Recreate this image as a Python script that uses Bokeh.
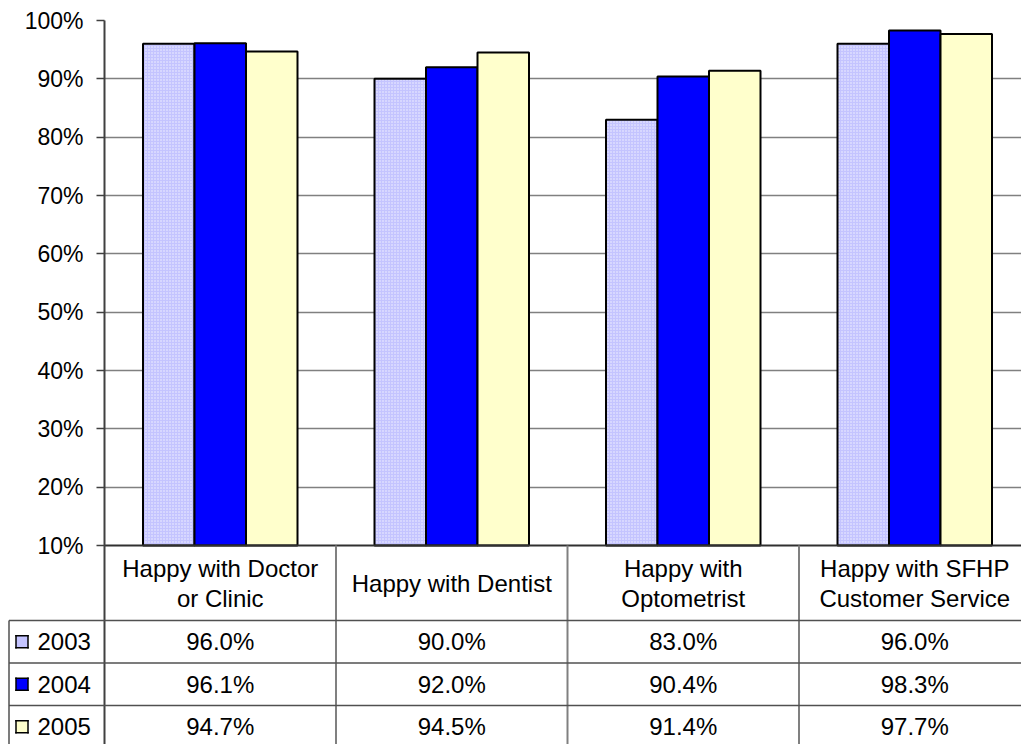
from bokeh.plotting import figure
from bokeh.models import Range1d, FixedTicker, ColumnDataSource
from bokeh.transform import dodge
from bokeh.embed import file_html
from bokeh.resources import INLINE
from bokeh.core.properties import value

# ---------------- data ----------------
categories = ["Happy with Doctor\nor Clinic", "Happy with Dentist",
              "Happy with\nOptometrist", "Happy with SFHP\nCustomer Service"]
years = ["2003", "2004", "2005"]
v2003 = [96.0, 90.0, 83.0, 96.0]
v2004 = [96.1, 92.0, 90.4, 98.3]
v2005 = [94.7, 94.5, 91.4, 97.7]
y_ticks = [10, 20, 30, 40, 50, 60, 70, 80, 90, 100]
y_tick_labels = ["10%", "20%", "30%", "40%", "50%", "60%", "70%", "80%", "90%", "100%"]

series = [v2003, v2004, v2005]
colors = ["#C4C4FF", "#0000FF", "#FFFFCC"]

# ---------------- layout constants ----------------
FONT = "Liberation Sans"
AXIS_FS = "23px"
FS = "24px"
PAGE_W = 1021
PAGE_H = 744
LEFT_PX = 104          # px from figure left to the value axis
TOP_PX = 20
BASE_PX = 545          # pixel row of the 10% baseline
CAT_PX = 231.5         # px per category column
FRAME_W = PAGE_W - LEFT_PX
X_END = FRAME_W / CAT_PX
UNIT_PX = (BASE_PX - TOP_PX) / (y_ticks[-1] - y_ticks[0])   # px per percent point
Y_MIN = y_ticks[0] - (PAGE_H - BASE_PX) / UNIT_PX
HEADER_H = 75
ROW_H = 42.5
BAR_W = 51.5 / CAT_PX
AXIS_COLOR = "#404040"
GRID_COLOR = "#808080"
TABLE_LEFT_PX = 8.5
KEY_CX = 21.5
KEY_SIZE = 12
LABEL_X = 37


def px_x(px):
    """page pixel column -> data x (value axis is at x = 0)"""
    return (px - LEFT_PX) / CAT_PX


def px_y(px):
    """pixels below the baseline -> data y"""
    return y_ticks[0] - px / UNIT_PX


p = figure(width=PAGE_W, height=PAGE_H, x_range=Range1d(0, X_END), y_range=Range1d(Y_MIN, y_ticks[-1]),
           output_backend="svg", toolbar_location=None, x_axis_location=None,
           min_border_left=LEFT_PX, min_border_right=0, min_border_top=TOP_PX, min_border_bottom=0)
p.outline_line_color = None
p.background_fill_color = "white"
p.border_fill_color = "white"
p.xgrid.visible = False
p.ygrid.ticker = FixedTicker(ticks=y_ticks[1:])
p.ygrid.grid_line_color = GRID_COLOR
p.ygrid.grid_line_width = 1.5

ax = p.yaxis[0]
ax.ticker = FixedTicker(ticks=y_ticks)
ax.major_label_overrides = {t: l for t, l in zip(y_ticks, y_tick_labels)}
ax.major_label_text_font = FONT
ax.major_label_text_font_size = AXIS_FS
ax.major_label_text_color = "black"
ax.major_label_standoff = 13
ax.major_tick_in = 0
ax.major_tick_out = 8
ax.minor_tick_in = 0
ax.minor_tick_out = 0
ax.axis_line_color = AXIS_COLOR
ax.axis_line_width = 2
ax.major_tick_line_color = AXIS_COLOR
ax.major_tick_line_width = 1.5

# ---------------- bars ----------------
src = ColumnDataSource(dict(x=[i + 0.5 for i in range(len(categories))],
                            v2003=v2003, v2004=v2004, v2005=v2005))
offsets = [-BAR_W, 0.0, BAR_W]
for name, off, col in zip(["v2003", "v2004", "v2005"], offsets, colors):
    kw = {}
    if name == "v2003":
        kw = dict(hatch_pattern="dot", hatch_color="white", hatch_scale=3, hatch_weight=1, hatch_alpha=0.8)
    p.vbar(x=dodge("x", off), top=name, bottom=y_ticks[0], width=BAR_W, source=src,
           fill_color=col, line_color="black", line_width=2, **kw)

# ---------------- data table ----------------
x_left = px_x(TABLE_LEFT_PX)
row_tops = [px_y(HEADER_H + ROW_H * r) for r in range(len(years))]
row_mid = [px_y(HEADER_H + ROW_H * (r + 0.5)) for r in range(len(years))]
y_bottom = Y_MIN

# baseline (top border of the table)
p.segment(x0=[0], y0=[y_ticks[0]], x1=[X_END], y1=[y_ticks[0]], line_color="#303030", line_width=2)
# row lines (extend into the legend column, drawn unclipped)
p.segment(x0=[x_left] * len(row_tops), y0=row_tops, x1=[X_END] * len(row_tops), y1=row_tops,
          line_color="#505050", line_width=1.5, level="annotation")
# category separators
seps = list(range(1, len(categories)))
p.segment(x0=seps, y0=[y_ticks[0]] * len(seps), x1=seps, y1=[y_bottom] * len(seps),
          line_color=GRID_COLOR, line_width=2)
# left border of the legend column
p.segment(x0=[x_left], y0=[row_tops[0]], x1=[x_left], y1=[y_bottom], line_color="#505050",
          line_width=1.5, level="annotation")

# header texts
p.text(x=[i + 0.5 for i in range(len(categories))], y=[px_y(HEADER_H / 2 + 0.5)] * len(categories),
       text=categories, text_align="center", text_baseline="middle", text_font=value(FONT),
       text_font_size=FS, text_color="black", text_line_height=1.13)

# value texts
for r, vals in enumerate(series):
    p.text(x=[i + 0.5 for i in range(len(categories))], y=[row_mid[r]] * len(vals),
           text=[f"{v:.1f}%" for v in vals], text_align="center", text_baseline="middle",
           text_font=value(FONT), text_font_size=FS, text_color="black")

# legend keys (drawn as thick segments so they render outside the frame)
k_l = px_x(KEY_CX - KEY_SIZE / 2)
k_r = px_x(KEY_CX + KEY_SIZE / 2)
half_h = KEY_SIZE / 2 / UNIT_PX
n = len(years)
p.segment(x0=[k_l] * n, y0=row_mid, x1=[k_r] * n, y1=row_mid, line_color=colors,
          line_width=KEY_SIZE, line_cap="butt", level="annotation")
k_top = [y + half_h for y in row_mid]
k_bot = [y - half_h for y in row_mid]
p.segment(x0=[k_l] * n + [k_l] * n + [k_l] * n + [k_r] * n,
          y0=k_top + k_bot + k_bot + k_bot,
          x1=[k_r] * n + [k_r] * n + [k_l] * n + [k_r] * n,
          y1=k_top + k_bot + k_top + k_top,
          line_color="black", line_width=1.5, line_cap="square", level="annotation")
p.text(x=[px_x(LABEL_X)] * n, y=row_mid, text=years, text_align="left",
       text_baseline="middle", text_font=value(FONT), text_font_size=FS, text_color="black",
       level="annotation")

open("out.html", "w").write(file_html(p, INLINE))
